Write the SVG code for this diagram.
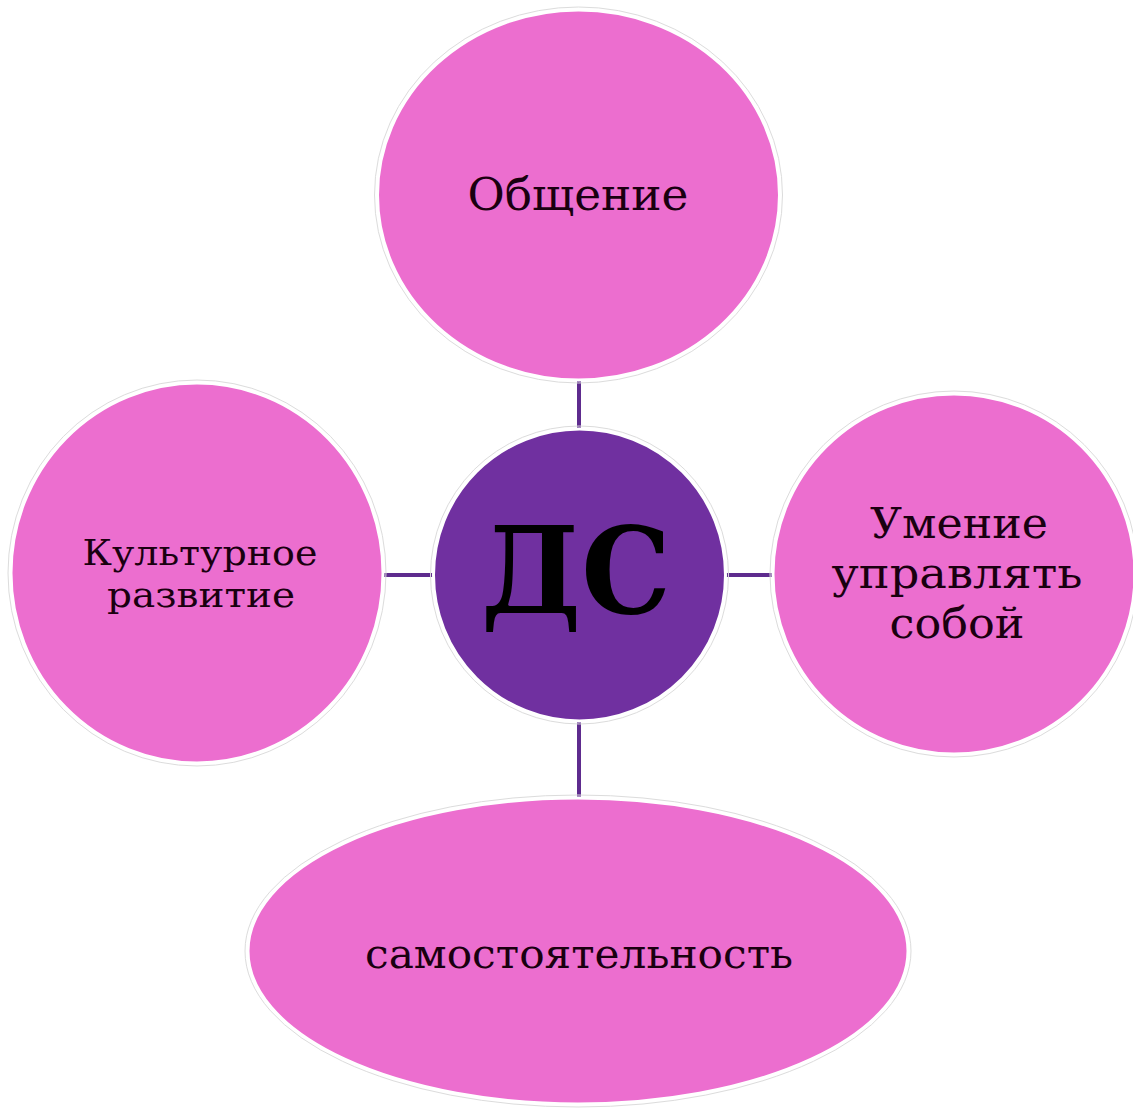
<svg xmlns="http://www.w3.org/2000/svg" width="1133" height="1110" viewBox="0 0 1133 1110">
  <style>
    .halo { fill: none; stroke: #dcdcdc; stroke-width: 1; }
    .leaf { fill: #EC6ECF; stroke: #ffffff; stroke-width: 3; }
    .hub { fill: #7030A0; stroke: #ffffff; stroke-width: 3; }
    .lbl { font-family: "DejaVu Serif", "Liberation Serif", serif; fill: #1a0010; text-anchor: middle; }
    .hubtxt { font-family: "DejaVu Serif", "Liberation Serif", serif; font-weight: bold; fill: #000000; text-anchor: middle; }
    .conn { stroke: #5E2B8E; stroke-width: 4; fill: none; }
  </style>
  <rect width="1133" height="1110" fill="#ffffff"/>
  <g id="connectors">
    <line class="conn" x1="579" y1="380" x2="579" y2="430"/>
    <line class="conn" x1="579" y1="720" x2="579" y2="798"/>
    <line class="conn" x1="383" y1="575" x2="433" y2="575"/>
    <line class="conn" x1="725" y1="575" x2="774" y2="575"/>
  </g>
  <g id="node-top">
    <ellipse class="halo" cx="578.5" cy="195" rx="204" ry="188"/>
    <ellipse class="leaf" cx="578.5" cy="195" rx="201" ry="185"/>
    <text class="lbl" x="578" y="210" font-size="45" textLength="221" lengthAdjust="spacingAndGlyphs">Общение</text>
  </g>
  <g id="node-left">
    <ellipse class="halo" cx="197" cy="573" rx="189" ry="193"/>
    <ellipse class="leaf" cx="197" cy="573" rx="186" ry="190"/>
    <text class="lbl" x="200" y="565" font-size="36" textLength="235" lengthAdjust="spacingAndGlyphs">Культурное</text>
    <text class="lbl" x="201" y="607" font-size="36" textLength="188" lengthAdjust="spacingAndGlyphs">развитие</text>
  </g>
  <g id="node-right">
    <ellipse class="halo" cx="954" cy="574" rx="184" ry="183"/>
    <ellipse class="leaf" cx="954" cy="574" rx="181" ry="180"/>
    <text class="lbl" x="959" y="538" font-size="43" textLength="178" lengthAdjust="spacingAndGlyphs">Умение</text>
    <text class="lbl" x="957" y="588" font-size="43" textLength="251" lengthAdjust="spacingAndGlyphs">управлять</text>
    <text class="lbl" x="957" y="638" font-size="43" textLength="135" lengthAdjust="spacingAndGlyphs">собой</text>
  </g>
  <g id="node-bottom">
    <ellipse class="halo" cx="578" cy="951" rx="333" ry="156"/>
    <ellipse class="leaf" cx="578" cy="951" rx="330" ry="153"/>
    <text class="lbl" x="579" y="968" font-size="41" textLength="428" lengthAdjust="spacingAndGlyphs">самостоятельность</text>
  </g>
  <g id="node-center">
    <circle class="halo" cx="579.5" cy="575" r="149"/>
    <circle class="hub" cx="579.5" cy="575" r="146"/>
    <text class="hubtxt" x="576" y="613" font-size="120" textLength="190" lengthAdjust="spacingAndGlyphs">ДС</text>
  </g>
</svg>
